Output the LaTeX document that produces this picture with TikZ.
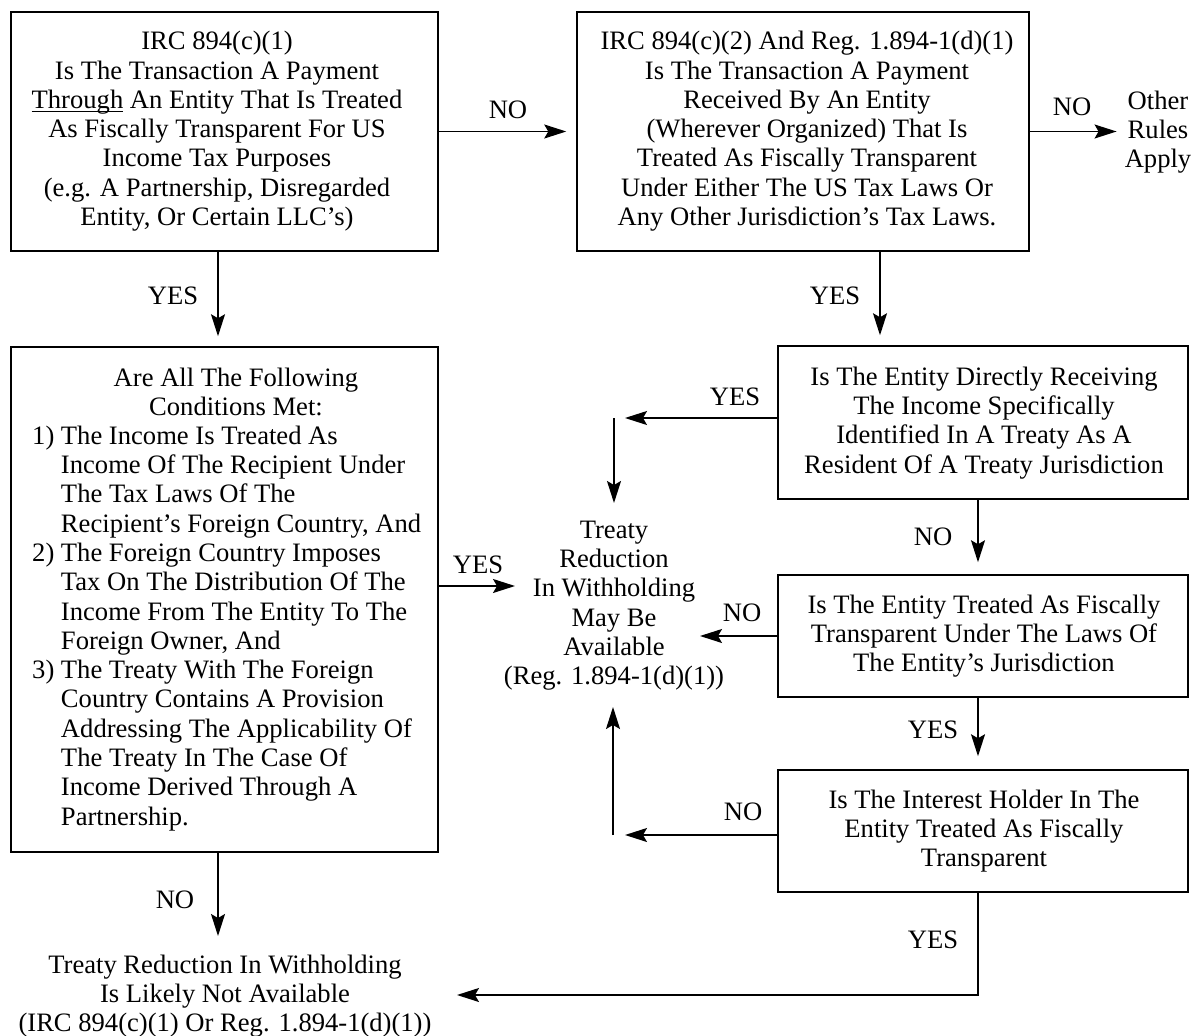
\documentclass[tikz,border=0pt]{standalone}
\usepackage{fontspec}
\setmainfont{Liberation Serif}
\usetikzlibrary{arrows.meta}
\newcommand\firstln{\rule{0pt}{24pt}}
\newcommand\ulword[1]{\setbox0\hbox{#1}\rlap{\rule[-3.5pt]{\wd0}{1.3pt}}#1}
\begin{document}
\begin{tikzpicture}[x=1pt,y=-1pt,
  box/.style={draw, line width=1.5pt, rectangle, inner sep=0pt},
  txt/.style={inner sep=0pt, align=center, font=\fontsize{26.6pt}{29.3pt}\selectfont, anchor=north},
  lbl/.style={inner sep=0pt, font=\fontsize{26.6pt}{29.3pt}\selectfont},
  arr/.style={line width=1.5pt, -{Stealth[length=22pt,width=14pt,inset=4pt]}}]
\useasboundingbox (0,0) rectangle (1192,1036);

% boxes
\node[box, minimum width=427pt, minimum height=239pt] (A) at (224.5,131.5) {};
\node[txt] (tA) at (217,25.5) {\firstln IRC 894(c)(1)\\Is The Transaction A Payment\\\ulword{Through} An Entity That Is Treated\\As Fiscally Transparent For US\\Income Tax Purposes\\(e.g. A Partnership, Disregarded\\Entity, Or Certain LLC's)};

\node[box, minimum width=452pt, minimum height=239pt] (B) at (803,131.5) {};
\node[txt] (tB) at (807,25.5) {\firstln IRC 894(c)(2) And Reg. 1.894-1(d)(1)\\Is The Transaction A Payment\\Received By An Entity\\(Wherever Organized) That Is\\Treated As Fiscally Transparent\\Under Either The US Tax Laws Or\\Any Other Jurisdiction's Tax Laws.};

\node[txt] (other) at (1158,85) {\firstln Other\\Rules\\Apply};

\node[box, minimum width=427pt, minimum height=505pt] (C) at (224.5,599.5) {};
\node[txt] (tC) at (236,362) {\firstln Are All The Following\\Conditions Met:};
\node[txt, anchor=north west, align=left] (lC) at (32,420) {\firstln\makebox[28.8pt][l]{1)}The Income Is Treated As\\
\hspace*{28.8pt}Income Of The Recipient Under\\
\hspace*{28.8pt}The Tax Laws Of The\\
\hspace*{28.8pt}Recipient's Foreign Country, And\\
\makebox[28.8pt][l]{2)}The Foreign Country Imposes\\
\hspace*{28.8pt}Tax On The Distribution Of The\\
\hspace*{28.8pt}Income From The Entity To The\\
\hspace*{28.8pt}Foreign Owner, And\\
\makebox[28.8pt][l]{3)}The Treaty With The Foreign\\
\hspace*{28.8pt}Country Contains A Provision\\
\hspace*{28.8pt}Addressing The Applicability Of\\
\hspace*{28.8pt}The Treaty In The Case Of\\
\hspace*{28.8pt}Income Derived Through A\\
\hspace*{28.8pt}Partnership.};

\node[box, minimum width=410pt, minimum height=153pt] (D) at (983,422.5) {};
\node[txt] (tD) at (984,361) {\firstln Is The Entity Directly Receiving\\The Income Specifically\\Identified In A Treaty As A\\Resident Of A Treaty Jurisdiction};

\node[box, minimum width=410pt, minimum height=122pt] (E) at (983,636) {};
\node[txt] (tE) at (984,589) {\firstln Is The Entity Treated As Fiscally\\Transparent Under The Laws Of\\The Entity's Jurisdiction};

\node[box, minimum width=410pt, minimum height=122pt] (F) at (983,831) {};
\node[txt] (tF) at (984,784) {\firstln Is The Interest Holder In The\\Entity Treated As Fiscally\\Transparent};

\node[txt] (mid) at (614,514) {\firstln Treaty\\Reduction\\In Withholding\\May Be\\Available\\(Reg. 1.894-1(d)(1))};

\node[txt] (notav) at (225,949) {\firstln Treaty Reduction In Withholding\\Is Likely Not Available\\(IRC 894(c)(1) Or Reg. 1.894-1(d)(1))};

% helper coordinates
\coordinate (xA) at (218,0);
\coordinate (xB) at (880,0);
\coordinate (xR) at (978,0);
\coordinate (j1) at (614,418);
\coordinate (tipT) at (614,503);
\coordinate (tipE) at (700,636);
\coordinate (j2) at (613,835);
\coordinate (tipF) at (613,707);
\coordinate (tipC) at (515,586);
\coordinate (j3) at (978,995);
\coordinate (tipN) at (457,995);

% connectors
\draw[arr, shorten >=10pt] (A.east) -- (B.west);
\draw[arr, shorten >=8pt] (B.east) -- (B.east -| other.west);
\draw[arr, shorten >=10pt] (xA |- A.south) -- (xA |- C.north);
\draw[arr, shorten >=10pt] (xB |- B.south) -- (xB |- D.north);
\draw[arr, shorten >=11pt] (D.west |- j1) -- (j1);
\draw[arr] (j1) -- (tipT);
\draw[arr] (E.west) -- (tipE);
\draw[arr, shorten >=12pt] (F.west |- j2) -- (j2);
\draw[arr] (j2) -- (tipF);
\draw[arr] (C.east |- tipC) -- (tipC);
\draw[arr, shorten >=12pt] (xR |- D.south) -- (xR |- E.north);
\draw[arr, shorten >=13pt] (xR |- E.south) -- (xR |- F.north);
\draw[arr, shorten >=13pt] (xA |- C.south) -- (xA |- notav.north);
\draw[arr] (xR |- F.south) -- (j3) -- (tipN);

% labels
\node[lbl] (n1) at (508,110) {NO};
\node[lbl] (n2) at (1072,107) {NO};
\node[lbl] (y1) at (173,296) {YES};
\node[lbl] (y2) at (835,296) {YES};
\node[lbl] (y3) at (735,397) {YES};
\node[lbl] (y4) at (478,565) {YES};
\node[lbl] (n3) at (933,537) {NO};
\node[lbl] (n4) at (742,613) {NO};
\node[lbl] (y5) at (933,730) {YES};
\node[lbl] (n5) at (743,812) {NO};
\node[lbl] (y6) at (933,940) {YES};
\node[lbl] (n6) at (175,900) {NO};
\end{tikzpicture}
\end{document}
